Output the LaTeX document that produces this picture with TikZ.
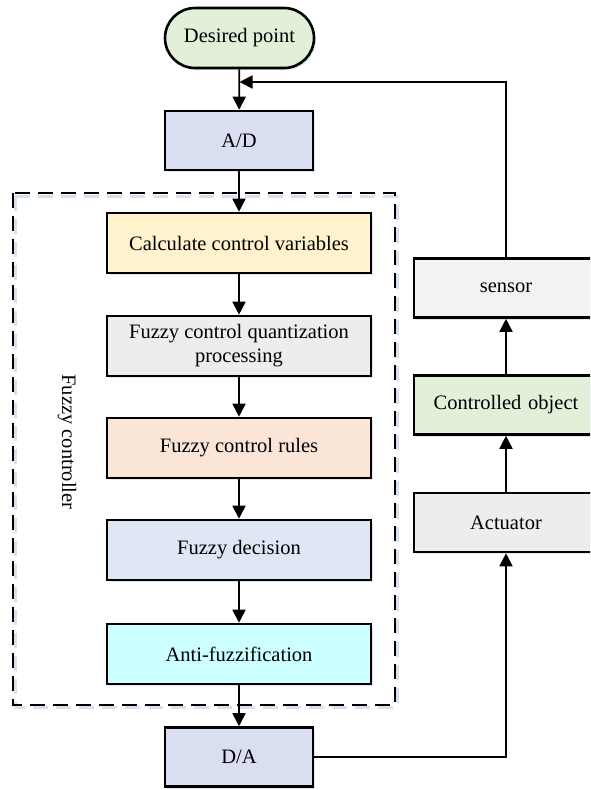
\documentclass[tikz,border=0pt]{standalone}
\usepackage{fontspec}
\setmainfont{Liberation Serif}
\usetikzlibrary{arrows.meta,shadows}

\definecolor{cGreen}{HTML}{E2EFD9}
\definecolor{cLav}{HTML}{D9DEF1}
\definecolor{cYellow}{HTML}{FFF2CC}
\definecolor{cGray}{HTML}{EDEDED}
\definecolor{cLight}{HTML}{F2F2F2}
\definecolor{cPeach}{HTML}{FBE5D6}
\definecolor{cBlue}{HTML}{DEE7F3}
\definecolor{cCyan}{HTML}{CCFFFF}
\definecolor{cShadow}{HTML}{D6E0EE}

\tikzset{
  box/.style={draw=black, line width=2.6pt, align=center, inner sep=2pt,
    font=\fontsize{20.5}{24}\selectfont,
    drop shadow={shadow xshift=2pt, shadow yshift=-2pt, fill=cShadow, opacity=0.8}},
  wide/.style={box, minimum width=264pt, minimum height=60pt},
  narrow/.style={box, minimum width=148pt, minimum height=59pt},
  side/.style={box, minimum width=200pt, minimum height=59pt},
  link/.style={line width=1.8pt, -{Triangle[length=13pt,width=13pt]}},
  frame/.style={line width=1.8pt, dash pattern=on 15pt off 8pt}
}

\begin{document}
\begin{tikzpicture}[x=1pt, y=-1pt]
\clip (0,0) rectangle (590,790);
\useasboundingbox (0,0) rectangle (590,790);

% dashed boundary of the fuzzy controller
\draw[frame, draw=cShadow, line width=3pt] (15,196) rectangle (397,707);
\draw[frame] (13,193) rectangle (395,705);
\node[rotate=-90, font=\fontsize{20.5}{24}\selectfont] (fclabel) at (67,442) {Fuzzy controller};

% main chain
\node[box, fill=cGreen, rounded corners=30pt, minimum width=149pt, minimum height=60pt] (dp) at (239.5,38) {Desired point};
\node[narrow, fill=cLav] (ad) at (239,140.5) {A/D};
\node[wide, fill=cYellow] (calc) at (239,243) {Calculate control variables};
\node[wide, fill=cGray] (quant) at (239,346) {Fuzzy control quantization\\processing};
\node[wide, fill=cPeach] (rules) at (239,448) {Fuzzy control rules};
\node[wide, fill=cBlue] (dec) at (239,550) {Fuzzy decision};
\node[wide, fill=cCyan] (anti) at (239,654) {Anti-fuzzification};
\node[narrow, fill=cLav] (da) at (239,757) {D/A};

% plant side (boxes run past the right edge)
\node[side, fill=cLight, text width=184pt] (sensor) at (514,288) {\hspace*{-16pt}sensor};
\node[side, fill=cGreen, text width=184pt] (obj) at (514,405) {\hspace*{-16pt}Controlled object};
\node[side, fill=cGray, text width=184pt] (act) at (514,522.5) {\hspace*{-16pt}Actuator};

\coordinate (fb) at (dp.south |- 0,82);
\coordinate (up) at (506,0);

\draw[link] (dp) -- (ad);
\draw[link] (ad) -- (calc);
\draw[link] (calc) -- (quant);
\draw[link] (quant) -- (rules);
\draw[link] (rules) -- (dec);
\draw[link] (dec) -- (anti);
\draw[link] (anti) -- (da);
\draw[link] (da.east) -| (up |- act.south);
\draw[link] (up |- act.north) -- (up |- obj.south);
\draw[link] (up |- obj.north) -- (up |- sensor.south);
\draw[link] (up |- sensor.north) |- (fb);
\end{tikzpicture}
\end{document}
